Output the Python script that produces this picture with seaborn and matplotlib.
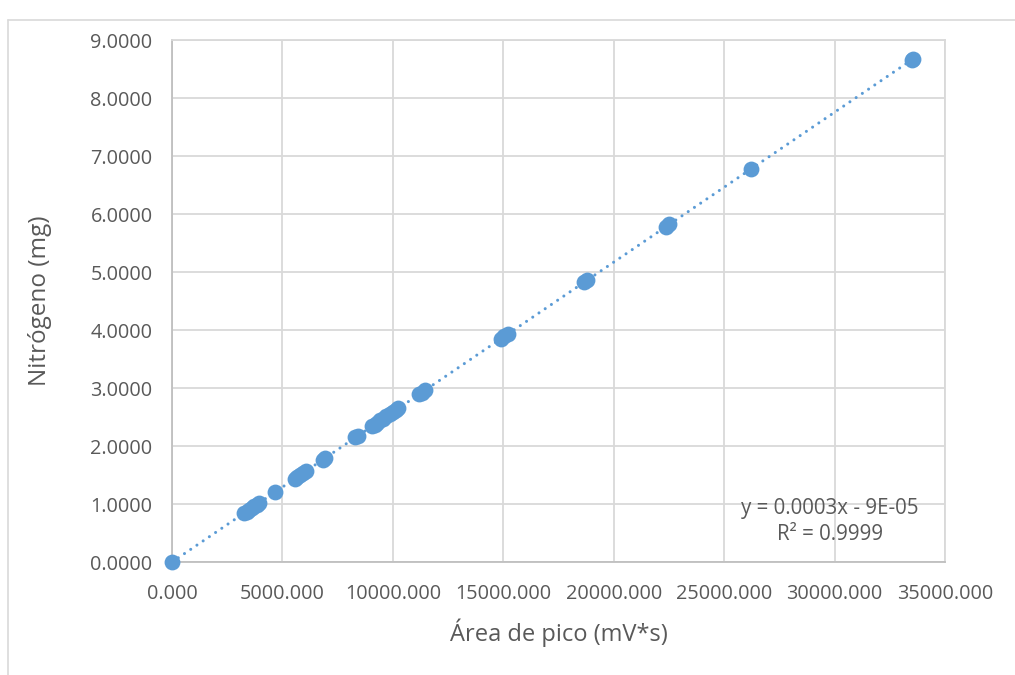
import matplotlib
matplotlib.use("Agg")
import matplotlib.pyplot as plt
from matplotlib.lines import Line2D
from matplotlib.ticker import FormatStrFormatter, MultipleLocator
import seaborn as sns
import pandas as pd

# Peak area (mV*s) and nitrogen mass (mg) of the calibration standards
area = [0, 3250, 3380, 3480, 3600, 3720, 3830, 3930, 4650,
        5550, 5680, 5800, 5950, 6080, 6820, 6920, 8300, 8400,
        9050, 9180, 9300, 9420, 9550, 9700, 9850, 10000, 10150, 10250,
        11200, 11300, 11450, 14900, 15050, 15200, 18650, 18800,
        22350, 22500, 26200, 33500, 33550]
nitrogen = [0.0000, 0.84, 0.87, 0.90, 0.93, 0.96, 0.99, 1.02, 1.20,
            1.43, 1.47, 1.50, 1.54, 1.57, 1.76, 1.79, 2.15, 2.17,
            2.34, 2.37, 2.40, 2.44, 2.47, 2.51, 2.55, 2.58, 2.62, 2.65,
            2.89, 2.92, 2.96, 3.85, 3.89, 3.93, 4.82, 4.86,
            5.78, 5.82, 6.77, 8.66, 8.67]

equation_text = "y = 0.0003x - 9E-05\nR² = 0.9999"

df = pd.DataFrame({"area": area, "nitrogen": nitrogen})

sns.set_theme(style="white")
plt.rcParams["font.family"] = ["Open Sans", "DejaVu Sans"]

blue = "#5B9BD5"
text_grey = "#595959"

fig = plt.figure(figsize=(10.15, 6.75), dpi=100)
ax = fig.add_axes([0.1695, 0.1674, 0.7615, 0.7733])

# round-dotted linear trendline
sns.regplot(data=df, x="area", y="nitrogen", ax=ax, scatter=False, ci=None,
            color=blue, line_kws=dict(ls=(0, (0.01, 2.45)), lw=2.2,
                                      dash_capstyle="round", solid_capstyle="round"))
sns.scatterplot(data=df, x="area", y="nitrogen", ax=ax, color=blue, s=130,
                edgecolor=blue, linewidth=0, zorder=3, clip_on=False)

ax.set_xlim(0, 35000)
ax.set_ylim(0, 9)
ax.xaxis.set_major_locator(MultipleLocator(5000))
ax.yaxis.set_major_locator(MultipleLocator(1))
ax.xaxis.set_major_formatter(FormatStrFormatter("%.3f"))
ax.yaxis.set_major_formatter(FormatStrFormatter("%.4f"))
ax.grid(True, color="#D9D9D9", lw=1.3)
ax.set_axisbelow(True)
for side, sp in ax.spines.items():
    sp.set_color("#D9D9D9")
    sp.set_linewidth(1.3)
ax.spines["left"].set_color("#BFBFBF")
ax.spines["bottom"].set_color("#BFBFBF")
ax.tick_params(axis="both", length=0, labelsize=14.3, colors=text_grey)
ax.tick_params(axis="y", pad=14)
ax.tick_params(axis="x", pad=16)

ax.set_xlabel("Área de pico (mV*s)", fontsize=17, color=text_grey, labelpad=10)
ax.set_ylabel("Nitrógeno (mg)", fontsize=17.5, color=text_grey, labelpad=28)

ax.text(29800, 0.70, equation_text, ha="center", va="center", fontsize=14.8,
        color=text_grey, linespacing=1.3)

# chart area border
fig.add_artist(Line2D([0.008, 0.008], [0, 0.970], transform=fig.transFigure,
                      color="#D9D9D9", lw=1.2))
fig.add_artist(Line2D([0.008, 1.0], [0.970, 0.970], transform=fig.transFigure,
                      color="#D9D9D9", lw=1.2))

fig.savefig("out.png", dpi=100, facecolor="white")
